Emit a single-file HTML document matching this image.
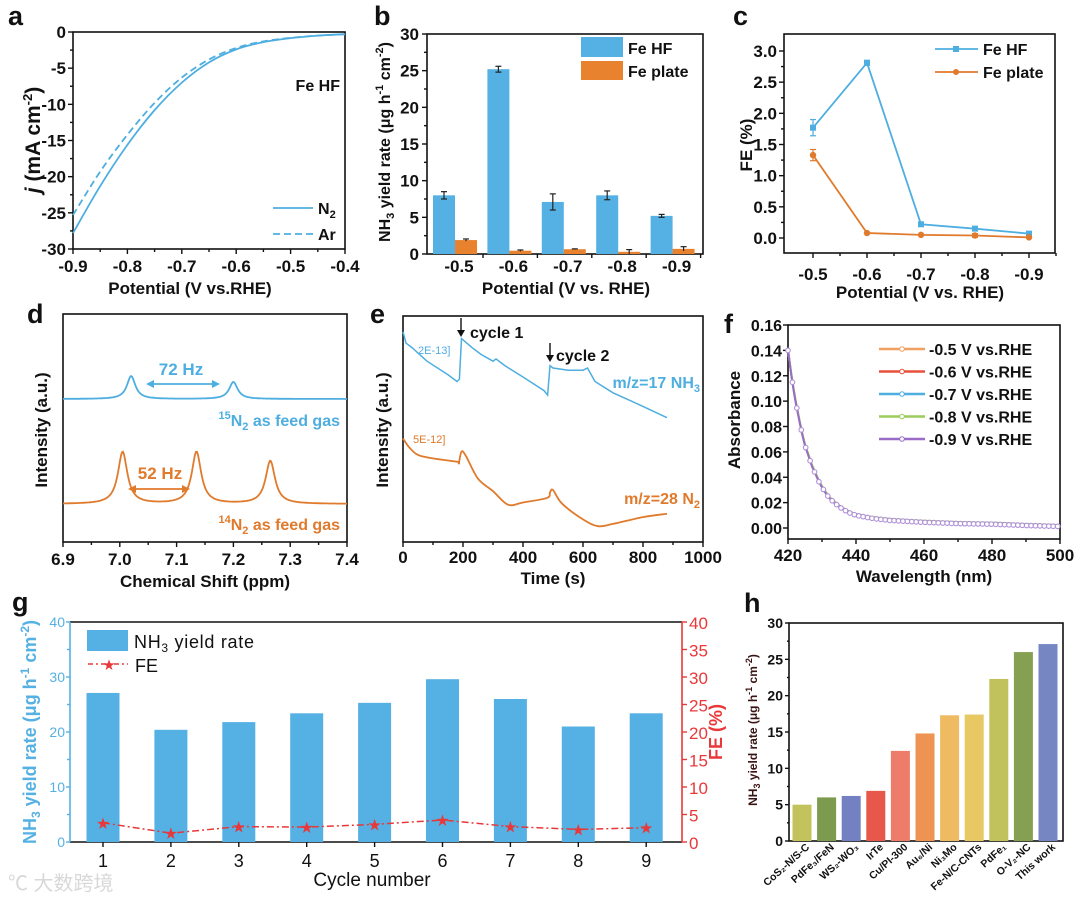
<!DOCTYPE html>
<html><head><meta charset="utf-8">
<style>
html,body{margin:0;padding:0;background:#fff;}
svg{display:block;font-family:"Liberation Sans","Noto Sans CJK SC",sans-serif;font-weight:bold;}
</style></head>
<body>
<svg id="fig" width="1080" height="898" viewBox="0 0 1080 898" xmlns="http://www.w3.org/2000/svg">
<g id="root"></g>
<text x="8" y="890" font-size="20" fill="#d8d8d8" font-weight="normal">℃ 大数跨境</text>
</svg>
<script>
// ---- panel a data ----
const aPotN2 = [-0.9,-0.85,-0.8,-0.75,-0.7,-0.65,-0.6,-0.55,-0.5,-0.45,-0.4];
const aJN2 = [-27.8,-21.3,-15.6,-10.8,-7.0,-4.2,-2.4,-1.4,-0.85,-0.5,-0.3];
const aJAr = [-25.3,-19.3,-14.2,-9.8,-6.3,-3.8,-2.2,-1.3,-0.8,-0.5,-0.3];
const aXTicks = [-0.9,-0.8,-0.7,-0.6,-0.5,-0.4];
const aYTicks = [0,-5,-10,-15,-20,-25,-30];
// ---- panel b data ----
const bCats = ['-0.5','-0.6','-0.7','-0.8','-0.9'];
const bHF = [8.0,25.2,7.1,8.0,5.2];
const bHFErr = [0.5,0.4,1.1,0.6,0.2];
const bPlate = [1.9,0.45,0.65,0.3,0.7];
const bPlateErr = [0.15,0.1,0.05,0.3,0.3];
const bYTicks = [0,5,10,15,20,25,30];
// ---- panel c data ----
const cCats = ['-0.5','-0.6','-0.7','-0.8','-0.9'];
const cHF = [1.77,2.81,0.22,0.15,0.07];
const cHFErr = [0.13,0.04,0.02,0.02,0.01];
const cPlate = [1.33,0.08,0.05,0.04,0.01];
const cPlateErr = [0.09,0.01,0.01,0.03,0.01];
const cYTicks = [0,0.5,1.0,1.5,2.0,2.5,3.0];
// ---- panel d data ----
const d15Pos = [7.02,7.20];
const d15Height = [23,17];
const d14Pos = [7.005,7.135,7.265];
const d14Height = [52,52,43];
const dXTicks = [6.9,7.0,7.1,7.2,7.3,7.4];
// ---- panel e data ----
const eT17 = [0,10,30,80,150,180,188,195,230,260,300,310,340,400,470,482,490,500,550,600,615,640,700,800,880];
const eI17 = [93,88,86,80,74,71,72,90,86,83,80,81,78,73,67,65,78,77,76,76,77,71,66,60,55];
const eT28 = [0,20,50,100,180,186,195,210,250,300,350,400,480,490,500,530,600,650,700,800,880];
const eI28 = [45.8,42,38.5,37,35.5,35,40,38,28,22.5,16.5,17.5,19.5,22,23,17,10,7,8,11,12.5];
const eXTicks = [0,200,400,600,800,1000];
// ---- panel f data ----
const fWave = [420,421,422,423,424,425,426,427,428,429,430,432,434,436,438,440,445,450,460,470,480,490,500];
const fAbs = [0.140,0.120,0.103,0.089,0.076,0.065,0.057,0.049,0.043,0.037,0.032,0.024,0.019,0.015,0.012,0.010,0.0075,0.006,0.0045,0.0035,0.003,0.002,0.0012];
const fLegend = ['-0.5 V vs.RHE','-0.6 V vs.RHE','-0.7 V vs.RHE','-0.8 V vs.RHE','-0.9 V vs.RHE'];
const fYTicks = [0,0.02,0.04,0.06,0.08,0.10,0.12,0.14,0.16];
const fXTicks = [420,440,460,480,500];
// ---- panel g data ----
const gCycles = ['1','2','3','4','5','6','7','8','9'];
const gYield = [27.1,20.4,21.8,23.4,25.3,29.6,26.0,21.0,23.4];
const gFE = [3.5,1.6,2.8,2.7,3.2,4.0,2.8,2.3,2.6];
const gTicks = [0,10,20,30,40];
const gRTicks = [0,5,10,15,20,25,30,35,40];
// ---- panel h data ----
const hNames = ['CoS₂-N/S-C','PdFe₃/FeN','WS₂-WO₃','IrTe','Cu/PI-300','Au₆/Ni','Ni₃Mo','Fe-N/C-CNTs','PdFe₁','O-V₂-NC','This work'];
const hValues = [5.0,6.0,6.2,6.9,12.4,14.8,17.3,17.4,22.3,26.0,27.1];
const hColors = ['#c3c35e','#7d9b4e','#7381c2','#e8584a','#ee7c6a','#ee9352','#eeba62','#e8c862','#c2c25c','#86a052','#7686c2'];
const hTicks = [0,5,10,15,20,25,30];

const NS='http://www.w3.org/2000/svg';
const root=document.getElementById('root');
function el(tag,attrs,parent,txt){const e=document.createElementNS(NS,tag);for(const k in attrs)e.setAttribute(k,attrs[k]);if(txt!==undefined)e.textContent=txt;(parent||root).appendChild(e);return e;}
function lin(d0,d1,r0,r1){return v=>r0+(v-d0)/(d1-d0)*(r1-r0);}
function grp(name){const g=el('g',{});return g;}
function txt(g,x,y,s,size,anchor,fill,name,extra){const t=el('text',Object.assign({x:x,y:y,'font-size':size,'text-anchor':anchor||'middle',fill:fill||'#111'},extra||{}),g);t.innerHTML=s;return t;}
function frame(g,x0,y0,x1,y1,name){const r=el('rect',{x:x0,y:y0,width:x1-x0,height:y1-y0,fill:'none',stroke:'#111','stroke-width':1.6},g);}
function line(g,x1,y1,x2,y2,st,w){return el('line',{x1:x1,y1:y1,x2:x2,y2:y2,stroke:st||'#111','stroke-width':w||1.4},g);}
function pathFrom(xs,ys,sx,sy){return xs.map((v,i)=>(i?'L':'M')+sx(v).toFixed(1)+','+sy(ys[i]).toFixed(1)).join(' ');}
function smooth(xs,ys,sx,sy){const P=xs.map((v,i)=>[sx(v),sy(ys[i])]);let d='M'+P[0][0]+','+P[0][1];for(let i=0;i<P.length-1;i++){const p0=P[i-1]||P[i],p1=P[i],p2=P[i+1],p3=P[i+2]||p2;d+=' C'+(p1[0]+(p2[0]-p0[0])/6)+','+(p1[1]+(p2[1]-p0[1])/6)+' '+(p2[0]-(p3[0]-p1[0])/6)+','+(p2[1]-(p3[1]-p1[1])/6)+' '+p2[0]+','+p2[1];}return d;}
function label(x,y,s){const t=el('text',{x:x,y:y,'font-size':27,fill:'#111'});t.textContent=s;}

// ===== Panel a =====
(function(){
const g=grp('panel-a-lsv');
const sx=lin(-0.9,-0.4,73,345), sy=lin(0,-30,32,249);
frame(g,73,32,345,249,'panel-a-frame');
aXTicks.forEach(v=>{line(g,sx(v),249,sx(v),254);txt(g,sx(v),272,v.toFixed(1),17,'middle','#111','x-tick-label');});
for(let v=-0.85;v<-0.4;v+=0.1)line(g,sx(v),249,sx(v),252);
aYTicks.forEach(v=>{line(g,73,sy(v),68,sy(v));txt(g,66,sy(v)+6,String(v),17,'end','#111','y-tick-label');});
for(let v=-2.5;v>-30;v-=5)line(g,73,sy(v),70,sy(v));
const p1=el('path',{d:smooth(aPotN2,aJN2,sx,sy),fill:'none',stroke:'#4eaee0','stroke-width':1.8},g);

const p2=el('path',{d:smooth(aPotN2,aJAr,sx,sy),fill:'none',stroke:'#4eaee0','stroke-width':1.8,'stroke-dasharray':'7,4'},g);

txt(g,340,91,'Fe HF',16,'end','#111','sample-label');
line(g,273,208,313,208,'#4eaee0',1.8);txt(g,318,214,'N<tspan font-size="11" dy="4">2</tspan>',16,'start','#111','legend-n2');
line(g,273,234,313,234,'#4eaee0',1.8).setAttribute('stroke-dasharray','7,4');txt(g,318,240,'Ar',16,'start','#111','legend-ar');
txt(g,190,294,'Potential (V vs.RHE)',17,'middle','#111','x-axis-title');
txt(g,0,0,'<tspan font-style="italic">j</tspan> (mA cm<tspan font-size="13" dy="-8">-2</tspan><tspan dy="8">)</tspan>',21,'middle','#111','y-axis-title',{transform:'translate(40,140) rotate(-90)'});
label(8,25,'a');
})();

// ===== Panel b =====
(function(){
const g=grp('panel-b-yield-bars');
const x0=427,x1=703,y0=34,y1=254;
const sy=lin(0,30,y1,y0);
const cx=i=>459+i*54.4;
frame(g,x0,y0,x1,y1,'panel-b-frame');
bYTicks.forEach(v=>{line(g,x0,sy(v),x0-5,sy(v));txt(g,x0-8,sy(v)+6,String(v),17,'end','#111','y-tick-label');});
for(let v=2.5;v<30;v+=5)line(g,x0,sy(v),x0-3,sy(v));
bCats.forEach((c,i)=>{line(g,cx(i)+24,y1,cx(i)+24,y1+4);txt(g,cx(i),272,c,17,'middle','#111','x-tick-label');});
bHF.forEach((v,i)=>{const r=el('rect',{x:cx(i)-26,y:sy(v),width:22,height:y1-sy(v),fill:'#55b1e3'},g);
 const m=cx(i)-15;line(g,m,sy(v+bHFErr[i]),m,sy(v-bHFErr[i]),'#222',1.2);line(g,m-3,sy(v+bHFErr[i]),m+3,sy(v+bHFErr[i]),'#222',1.2);line(g,m-3,sy(v-bHFErr[i]),m+3,sy(v-bHFErr[i]),'#222',1.2);});
bPlate.forEach((v,i)=>{const r=el('rect',{x:cx(i)-4,y:sy(v),width:22,height:y1-sy(v),fill:'#e8822e'},g);
 const m=cx(i)+7;line(g,m,sy(v+bPlateErr[i]),m,sy(Math.max(0,v-bPlateErr[i])),'#222',1.2);line(g,m-3,sy(v+bPlateErr[i]),m+3,sy(v+bPlateErr[i]),'#222',1.2);});
el('rect',{x:581,y:37,width:42,height:20,fill:'#55b1e3'},g);txt(g,628,54,'Fe HF',16,'start','#111','legend-fe-hf');
el('rect',{x:581,y:61,width:42,height:19,fill:'#e8822e'},g);txt(g,628,77,'Fe plate',16,'start','#111','legend-fe-plate');
txt(g,566,294,'Potential (V vs. RHE)',17,'middle','#111','x-axis-title');
txt(g,0,0,'NH<tspan font-size="11" dy="4">3</tspan><tspan dy="-4"> yield rate (μg h</tspan><tspan font-size="11" dy="-7">-1</tspan><tspan dy="7"> cm</tspan><tspan font-size="11" dy="-7">-2</tspan><tspan dy="7">)</tspan>',16,'middle','#111','y-axis-title',{transform:'translate(390,142) rotate(-90)'});
label(374,25,'b');
})();

// ===== Panel c =====
(function(){
const g=grp('panel-c-fe-lines');
const x0=784,x1=1055,y0=34,y1=253;
const sy=lin(0,3,238,51);const cx=i=>813+i*54;
frame(g,x0,y0,x1,y1,'panel-c-frame');
cYTicks.forEach(v=>{line(g,x0,sy(v),x0-5,sy(v));txt(g,x0-7,sy(v)+6,v.toFixed(1),17,'end','#111','y-tick-label');});
for(let v=0.25;v<3.2;v+=0.5)line(g,x0,sy(v),x0-3,sy(v));
cCats.forEach((c,i)=>{line(g,cx(i),y1,cx(i),y1+5);line(g,cx(i)+27,y1,cx(i)+27,y1+3);txt(g,cx(i),280,c,17,'middle','#111','x-tick-label');});
function series(vals,errs,col,name,sq){const idx=vals.map((v,i)=>i);
 const p=el('path',{d:pathFrom(idx,vals,cx,sy),fill:'none',stroke:col,'stroke-width':1.8},g);
 vals.forEach((v,i)=>{line(g,cx(i),sy(v+errs[i]),cx(i),sy(v-errs[i]),col,1.2);line(g,cx(i)-3,sy(v+errs[i]),cx(i)+3,sy(v+errs[i]),col,1.2);line(g,cx(i)-3,sy(v-errs[i]),cx(i)+3,sy(v-errs[i]),col,1.2);
 const m=sq?el('rect',{x:cx(i)-3,y:sy(v)-3,width:6,height:6,fill:col},g):el('circle',{cx:cx(i),cy:sy(v),r:3.2,fill:col},g);});}
series(cHF,cHFErr,'#4eaee0','fe-hf',true);
series(cPlate,cPlateErr,'#e07a2c','fe-plate',false);
line(g,935,49,978,49,'#4eaee0',1.8);el('rect',{x:953,y:46,width:6,height:6,fill:'#4eaee0'},g);txt(g,983,55,'Fe HF',16,'start','#111','legend-fe-hf');
line(g,935,72,978,72,'#e07a2c',1.8);el('circle',{cx:956,cy:72,r:3,fill:'#e07a2c'},g);txt(g,983,78,'Fe plate',16,'start','#111','legend-fe-plate');
txt(g,920,298,'Potential (V vs. RHE)',17,'middle','#111','x-axis-title');
txt(g,0,0,'FE (%)',17,'middle','#111','y-axis-title',{transform:'translate(752,145) rotate(-90)'});
label(733,25,'c');
})();

// ===== Panel d =====
(function(){
const g=grp('panel-d-nmr');
const x0=63,x1=347,y0=314,y1=542;
const sx=lin(6.9,7.4,x0,x1);
frame(g,x0,y0,x1,y1,'panel-d-frame');
dXTicks.forEach(v=>{line(g,sx(v),y1,sx(v),y1+5);txt(g,sx(v),565,v.toFixed(1),17,'middle','#111','x-tick-label');});
for(let v=6.95;v<7.4;v+=0.1)line(g,sx(v),y1,sx(v),y1+3);
function spec(pos,hts,base,col,name,w){let d='';for(let i=0;i<=284;i++){const x=6.9+i*0.5/284;let y=0;pos.forEach((p,k)=>{y+=hts[k]/(1+Math.pow((x-p)/w,2));});d+=(i?'L':'M')+sx(x).toFixed(1)+','+(base-y).toFixed(1);}
 const p=el('path',{d:d,fill:'none',stroke:col,'stroke-width':1.8},g);}
spec(d15Pos,d15Height,399,'#4eaee0','n15-spectrum',0.009);
spec(d14Pos,d14Height,504,'#e07a2c','n14-spectrum',0.01);
function arrow(xa,xb,y,col){line(g,xa+6,y,xb-6,y,col,1.8);el('path',{d:`M${xa},${y} l8,-4 v8 z M${xb},${y} l-8,-4 v8 z`,fill:col},g);}
arrow(146,220,384,'#4eaee0');txt(g,181,375,'72 Hz',17,'middle','#4eaee0','label-72hz');
arrow(128,190,489,'#e07a2c');txt(g,160,479,'52 Hz',17,'middle','#e07a2c','label-52hz');
txt(g,340,426,'<tspan font-size="11" dy="-7">15</tspan><tspan dy="7">N</tspan><tspan font-size="11" dy="4">2</tspan><tspan dy="-4"> as feed gas</tspan>',16,'end','#4eaee0','n15-label');
txt(g,340,530,'<tspan font-size="11" dy="-7">14</tspan><tspan dy="7">N</tspan><tspan font-size="11" dy="4">2</tspan><tspan dy="-4"> as feed gas</tspan>',16,'end','#e07a2c','n14-label');
txt(g,205,587,'Chemical Shift (ppm)',17,'middle','#111','x-axis-title');
txt(g,0,0,'Intensity (a.u.)',17,'middle','#111','y-axis-title',{transform:'translate(47,430) rotate(-90)'});
label(27,323,'d');
})();

// ===== Panel e =====
(function(){
const g=grp('panel-e-ms');
const x0=403,x1=703,y0=316,y1=542;
const sx=lin(0,1000,x0,x1), sy=lin(0,100,y1,y0);
frame(g,x0,y0,x1,y1,'panel-e-frame');
eXTicks.forEach(v=>{line(g,sx(v),y1,sx(v),y1+5);txt(g,sx(v),563,String(v),17,'middle','#111','x-tick-label');});
for(let v=100;v<1000;v+=200)line(g,sx(v),y1,sx(v),y1+3);
const p1=el('path',{d:pathFrom(eT17,eI17,sx,sy),fill:'none',stroke:'#4eaee0','stroke-width':1.5},g);
const p2=el('path',{d:smooth(eT28,eI28,sx,sy),fill:'none',stroke:'#e07a2c','stroke-width':1.8},g);
txt(g,418,354,'2E-13]',11,'start','#4eaee0','scale-2e-13',{'font-weight':'normal'});
txt(g,413,443,'5E-12]',11,'start','#e07a2c','scale-5e-12',{'font-weight':'normal'});
line(g,461,318,461,332,'#111',1.4);el('path',{d:'M457,330 l4,7 l4,-7z',fill:'#111'},g);
txt(g,470,338,'cycle 1',16,'start','#111','cycle-1-label');
line(g,550,343,550,357,'#111',1.4);el('path',{d:'M546,355 l4,7 l4,-7z',fill:'#111'},g);
txt(g,556,361,'cycle 2',16,'start','#111','cycle-2-label');
txt(g,700,388,'m/z=17 NH<tspan font-size="11" dy="4">3</tspan>',16,'end','#4eaee0','nh3-label');
txt(g,700,504,'m/z=28 N<tspan font-size="11" dy="4">2</tspan>',16,'end','#e07a2c','n2-label');
txt(g,553,584,'Time (s)',17,'middle','#111','x-axis-title');
txt(g,0,0,'Intensity (a.u.)',17,'middle','#111','y-axis-title',{transform:'translate(388,430) rotate(-90)'});
label(370,323,'e');
})();

// ===== Panel f =====
(function(){
const g=grp('panel-f-uvvis');
const x0=788,x1=1060,y0=325,y1=539;
const sx=lin(420,500,x0,x1), sy=lin(0,0.16,528,325);
frame(g,x0,y0,x1,y1,'panel-f-frame');
fYTicks.forEach(v=>{line(g,x0,sy(v),x0-5,sy(v));txt(g,x0-6,sy(v)+6,v.toFixed(2),16,'end','#111','y-tick-label');});
fXTicks.forEach(v=>{line(g,sx(v),y1,sx(v),y1+5);txt(g,sx(v),561,String(v),17,'middle','#111','x-tick-label');});
for(let v=430;v<500;v+=20)line(g,sx(v),y1,sx(v),y1+3);
const cols=['#f0a060','#e8503c','#4eaee0','#9ccc5a','#9a6cc8'];
const offs=[0.0008,0.0004,0.0006,0.0012,0];
cols.forEach((c,k)=>{const ys=fAbs.map(v=>v+offs[k]);
 const p=el('path',{d:smooth(fWave,ys,sx,sy),fill:'none',stroke:c,'stroke-width':2},g);
 if(k===4){for(let w=420;w<=500;w+=1.3){let i=0;while(i<fWave.length-2&&fWave[i+1]<w)i++;const t=(w-fWave[i])/(fWave[i+1]-fWave[i]);const v=ys[i]+(ys[i+1]-ys[i])*Math.max(0,Math.min(1,t));el('circle',{cx:sx(w),cy:sy(v),r:2.3,fill:'#fff',stroke:'#b090d8','stroke-width':1.1},g);}}});
fLegend.forEach((s,k)=>{const y=349+k*22.5;line(g,879,y,925,y,cols[k],2.5);el('circle',{cx:902,cy:y,r:2.3,fill:'#fff',stroke:cols[k],'stroke-width':1},g);txt(g,929,y+6,s,16,'start','#111','legend-entry');});
txt(g,924,582,'Wavelength (nm)',17,'middle','#111','x-axis-title');
txt(g,0,0,'Absorbance',17,'middle','#111','y-axis-title',{transform:'translate(740,420) rotate(-90)'});
label(724,333,'f');
})();

// ===== Panel g =====
(function(){
const g=grp('panel-g-stability');
const x0=70,x1=682,y0=622,y1=842;
const sy=lin(0,40,y1,y0); const cx=i=>103+i*67.9;
const blue='#55b1e3',red='#e8383a';
line(g,x0,y0,x1,y0,'#111',1.6);line(g,x0,y1,x1,y1,'#111',1.6);
line(g,x0,y0,x0,y1,blue,1.6);line(g,x1,y0,x1,y1,red,1.6);
gTicks.forEach(v=>{line(g,x0,sy(v),x0-4,sy(v),blue);txt(g,x0-5,sy(v)+5,String(v),14,'end',blue,'y-tick-label',{'font-weight':'normal'});});
for(let v=5;v<40;v+=10)line(g,x0,sy(v),x0-3,sy(v),blue);
gRTicks.forEach(v=>{line(g,x1,sy(v),x1+5,sy(v),red);txt(g,x1+7,sy(v)+7,String(v),17,'start',red,'right-tick-label',{'font-weight':'normal'});});
gYield.forEach((v,i)=>{const r=el('rect',{x:cx(i)-16.5,y:sy(v),width:33,height:y1-sy(v),fill:blue},g);
 line(g,cx(i),y1,cx(i),y1+5);txt(g,cx(i),867,gCycles[i],18,'middle','#111','x-tick-label',{'font-weight':'normal'});});
const fp=el('path',{d:pathFrom(gFE.map((v,i)=>i),gFE,cx,sy),fill:'none',stroke:red,'stroke-width':1.5,'stroke-dasharray':'7,3,2,3'},g);

gFE.forEach((v,i)=>{const s=txt(g,cx(i),sy(v)+5,'★',13,'middle',red,'fe-point');});
el('rect',{x:87,y:630,width:41,height:21,fill:blue},g);
txt(g,134,648,'NH<tspan font-size="12" dy="4">3</tspan><tspan dy="-4"> yield rate</tspan>',18,'start','#111','legend-yield',{'font-weight':'normal','textLength':120});
line(g,88,664,128,664,red,1.5).setAttribute('stroke-dasharray','5,3,2,3');txt(g,109,669,'★',12,'middle',red,'legend-fe-marker');
txt(g,135,672,'FE',18,'start','#111','legend-fe',{'font-weight':'normal'});
txt(g,372,886,'Cycle number',19,'middle','#111','x-axis-title',{'font-weight':'normal'});
txt(g,0,0,'NH<tspan font-size="12" dy="4">3</tspan><tspan dy="-4"> yield rate (μg h</tspan><tspan font-size="12" dy="-7">-1</tspan><tspan dy="7"> cm</tspan><tspan font-size="12" dy="-7">-2</tspan><tspan dy="7">)</tspan>',18,'middle',blue,'y-axis-title',{transform:'translate(36,732) rotate(-90)'});
txt(g,0,0,'FE (%)',18,'middle',red,'right-axis-title',{transform:'translate(722,732) rotate(-90)'});
label(12,611,'g');
})();

// ===== Panel h =====
(function(){
const g=grp('panel-h-comparison');
const x0=789,x1=1063,y0=623,y1=841;
const sy=lin(0,30,y1,y0); const cx=i=>802+i*24.6;
frame(g,x0,y0,x1,y1,'panel-h-frame');
hTicks.forEach(v=>{line(g,x0,sy(v),x0-4,sy(v));txt(g,x0-6,sy(v)+5,String(v),14,'end','#111','y-tick-label');});
for(let v=2.5;v<30;v+=5)line(g,x0,sy(v),x0-2,sy(v));
hValues.forEach((v,i)=>{const r=el('rect',{x:cx(i)-9.5,y:sy(v),width:19,height:y1-sy(v),fill:hColors[i]},g);
 txt(g,0,0,hNames[i],10.5,'end','#111','x-category-label',{transform:`translate(${cx(i)+8},${y1+7}) rotate(-42)`});});
txt(g,0,0,'NH<tspan font-size="9" dy="3">3</tspan><tspan dy="-3"> yield rate (μg h</tspan><tspan font-size="9" dy="-5">-1</tspan><tspan dy="5"> cm</tspan><tspan font-size="9" dy="-5">-2</tspan><tspan dy="5">)</tspan>',12,'middle','#3a1414','y-axis-title',{transform:'translate(757,730) rotate(-90)'});
label(744,612,'h');
})();
</script>
</body></html>
